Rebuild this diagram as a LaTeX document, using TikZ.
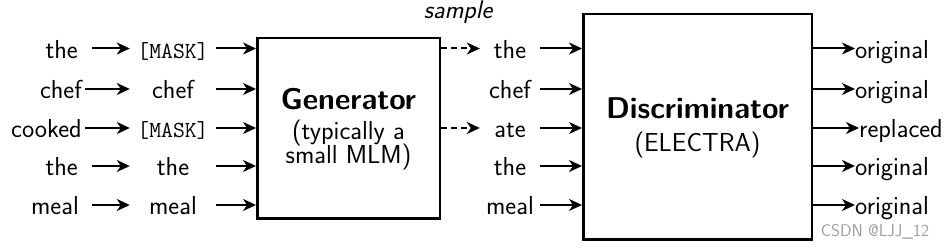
\documentclass[tikz,border=0pt]{standalone}
\usetikzlibrary{arrows.meta}
\begin{document}
\begin{tikzpicture}[x=1pt,y=-1pt,
  every node/.style={font=\sffamily\fontsize{26}{28}\selectfont, inner sep=0pt},
  wd/.style={text height=20pt, text depth=0pt},
  mid/.style={wd, minimum width=86pt},
  smp/.style={wd, minimum width=60pt},
  msk/.style={font=\ttfamily\fontsize{23}{25}\selectfont},
  ttl/.style={anchor=base, font=\sffamily\bfseries\fontsize{30}{32}\selectfont},
  sub/.style={anchor=base},
  arr/.style={-{Stealth[length=13pt,width=12pt,inset=4pt]}, line width=2pt},
  dsh/.style={arr, dash pattern=on 6pt off 4pt},
  box/.style={draw, line width=2.5pt}]
\useasboundingbox (0,0) rectangle (951,248);

% left column
\node[wd, anchor=east] (l1) at (78,48.5) {the};
\node[wd, anchor=east] (l2) at (82,89)   {chef};
\node[wd, anchor=east] (l3) at (82,128)  {cooked};
\node[wd, anchor=east] (l4) at (78,166)  {the};
\node[wd, anchor=east] (l5) at (79,205)  {meal};

% middle column
\node[mid, msk] (m1) at (173,48.5) {[MASK]};
\node[mid] (m2) at (173,89)  {chef};
\node[mid, msk] (m3) at (173,128) {[MASK]};
\node[mid] (m4) at (173,166) {the};
\node[mid] (m5) at (173,205) {meal};

% generator
\node[box, minimum width=182.5pt, minimum height=180.5pt] (gen) at (348.5,128.5) {};
\node[ttl] (gen1) at (348.5,110) {Generator};
\node[sub] (gen2) at (348.5,140) {(typically a};
\node[sub] (gen3) at (348.5,164) {small MLM)};

% sampled column
\node[smp] (r1) at (510,48.5) {the};
\node[smp] (r2) at (510,89)  {chef};
\node[smp] (r3) at (510,128) {ate};
\node[smp] (r4) at (510,166) {the};
\node[smp] (r5) at (510,205) {meal};
\node[anchor=base, font=\sffamily\itshape\fontsize{25.5}{28}\selectfont] (smpl) at (458,18.5) {sample};

% discriminator
\node[box, minimum width=228.5pt, minimum height=225.5pt] (disc) at (697.5,127) {};
\node[ttl] (disc1) at (697.5,119) {Discriminator};
\node[sub] (disc2) at (697.5,152) {(ELECTRA)};

% outputs
\node[wd, anchor=west] (o1) at (855,48.5) {original};
\node[wd, anchor=west] (o2) at (855,89)   {original};
\node[wd, anchor=west] (o3) at (859,128)  {replaced};
\node[wd, anchor=west] (o4) at (855,166)  {original};
\node[wd, anchor=west] (o5) at (855,205)  {original};

\node[anchor=base, text=black!38, font=\sffamily\fontsize{17}{19}\selectfont] (wm) at (875,237) {CSDN @LJJ\_12};

% connectors
\foreach \i/\s in {1/14,2/3,3/3,4/14,5/13} {
  \draw[arr, shorten <=\s pt] (l\i) -- (m\i);
}
\foreach \i in {1,...,5} {
  \draw[arr] (m\i) -- (m\i -| gen.west);
  \draw[arr] (r\i) -- (r\i -| disc.west);
  \draw[arr] (o\i -| disc.east) -- (o\i);
}
\draw[dsh] (r1 -| gen.east) -- (r1);
\draw[dsh] (r3 -| gen.east) -- (r3);
\end{tikzpicture}
\end{document}
